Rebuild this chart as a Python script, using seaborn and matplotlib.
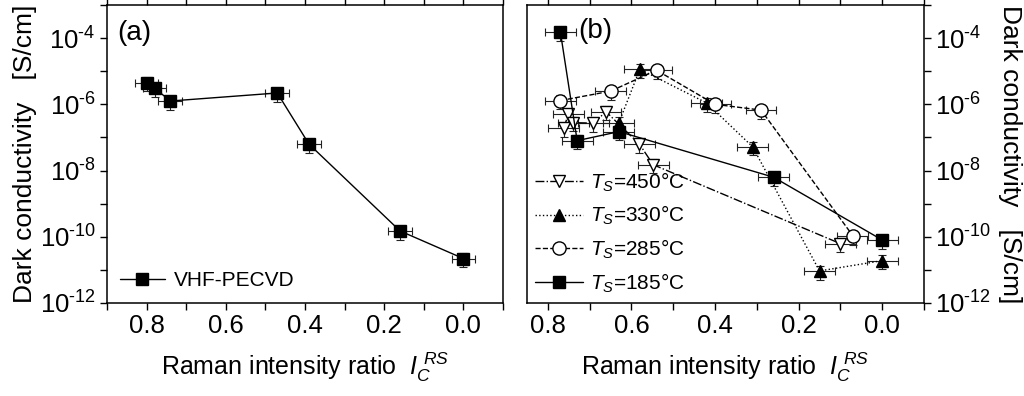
import numpy as np
import pandas as pd
import matplotlib
matplotlib.use("Agg")
import matplotlib.pyplot as plt
import matplotlib.ticker as mticker
import seaborn as sns

# panel (a): VHF-PECVD series
a_x = [0.80, 0.78, 0.74, 0.47, 0.39, 0.16, 0.0]
a_y = [4.5e-6, 3.1e-6, 1.26e-6, 2.2e-6, 6.3e-8, 1.5e-10, 2.2e-11]

# panel (b): substrate temperature series
t450_x = [0.762, 0.751, 0.739, 0.691, 0.661, 0.581, 0.548, 0.10]
t450_y = [1.9e-7, 5.1e-7, 2.8e-7, 2.7e-7, 6.0e-7, 6.3e-8, 1.5e-8, 6.2e-11]
t330_x = [0.63, 0.58, 0.42, 0.31, 0.15, 0.0]
t330_y = [2.8e-7, 1.15e-5, 1.1e-6, 5.2e-8, 9.3e-12, 1.9e-11]
t285_x = [0.77, 0.65, 0.54, 0.40, 0.29, 0.07]
t285_y = [1.3e-6, 2.5e-6, 1.07e-5, 1.0e-6, 6.7e-7, 1.06e-10]
t185_x = [0.77, 0.73, 0.63, 0.26, 0.0]
t185_y = [1.5e-4, 8.0e-8, 1.5e-7, 6.3e-9, 8.0e-11]

series_labels = ["$T_S$=450°C", "$T_S$=330°C", "$T_S$=285°C", "$T_S$=185°C"]
y_ticks = [1e-12, 1e-10, 1e-8, 1e-6, 1e-4]
y_ticklabels = ["$10^{\\text{-}12}$", "$10^{\\text{-}10}$", "$10^{\\text{-}8}$",
                "$10^{\\text{-}6}$", "$10^{\\text{-}4}$"]
x_ticks = [0.8, 0.6, 0.4, 0.2, 0.0]
x_ticklabels = ["0.8", "0.6", "0.4", "0.2", "0.0"]

sns.set_theme(style="ticks")
plt.rcParams['font.family'] = ['Liberation Sans', 'DejaVu Sans']
plt.rcParams['mathtext.fontset'] = 'custom'
plt.rcParams['mathtext.rm'] = 'Liberation Sans'
plt.rcParams['mathtext.it'] = 'Liberation Sans:italic'
plt.rcParams['mathtext.bf'] = 'Liberation Sans:bold'
plt.rcParams['text.color'] = 'black'
plt.rcParams['axes.labelcolor'] = 'black'

fig = plt.figure(figsize=(10.24, 3.96), dpi=100)
ax_a = fig.add_axes([107/1024, 93/396, 396/1024, 298/396])
ax_b = fig.add_axes([527/1024, 93/396, 397/1024, 298/396])

rel_err = 0.45


def draw(ax, xs, ys, xerr, marker, ls, face, label, ms=8.5):
    df = pd.DataFrame({"x": xs, "y": ys})
    ys = np.array(ys)
    ax.errorbar(xs, ys, xerr=xerr, yerr=rel_err * ys, fmt='none',
                ecolor='#222222', elinewidth=0.8, capsize=3, capthick=0.8, zorder=2)
    sns.lineplot(data=df, x="x", y="y", sort=False, ax=ax, color='black',
                 linestyle=ls, linewidth=1.0, marker=marker, markersize=ms,
                 markerfacecolor=face, markeredgecolor='black', markeredgewidth=1.0,
                 label=label, zorder=3)


draw(ax_a, a_x, a_y, 0.03, 's', '-', 'black', "VHF-PECVD")

draw(ax_b, t450_x, t450_y, 0.037, 'v', '-.', 'white', series_labels[0], 9)
draw(ax_b, t330_x, t330_y, 0.037, '^', ':', 'black', series_labels[1], 9)
draw(ax_b, t285_x, t285_y, 0.037, 'o', '--', 'white', series_labels[2], 9.5)
draw(ax_b, t185_x, t185_y, 0.037, 's', '-', 'black', series_labels[3])

for ax, xl in ((ax_a, (0.9, -0.1)), (ax_b, (0.85, -0.1))):
    ax.set_yscale('log')
    ax.set_ylim(1e-12, 1e-3)
    ax.set_xlim(*xl)
    ax.set_yticks(y_ticks)
    ax.set_yticklabels(y_ticklabels)
    ax.yaxis.set_minor_locator(mticker.FixedLocator([1e-11, 1e-9, 1e-7, 1e-5, 1e-3]))
    ax.yaxis.set_minor_formatter(mticker.NullFormatter())
    ax.set_xticks(x_ticks)
    ax.set_xticklabels(x_ticklabels)
    ax.xaxis.set_minor_locator(mticker.MultipleLocator(0.1))
    ax.tick_params(axis='both', which='major', labelsize=18.5, length=5, width=1,
                   color='black', labelcolor='black', direction='out', pad=3)
    ax.tick_params(axis='both', which='minor', length=5, width=1, color='black', direction='out')
    ax.tick_params(axis='x', top=True, which='both', labeltop=False)
    for sp in ax.spines.values():
        sp.set_visible(True)
        sp.set_color('black')
        sp.set_linewidth(1.1)
    ax.set_facecolor('white')
    ax.set_xlabel("Raman intensity ratio  $I_C^{\\ RS}$", fontsize=18, labelpad=9)

ax_a.set_ylabel("Dark conductivity   [S/cm]", fontsize=19, labelpad=2)
ax_b.yaxis.tick_right()
ax_b.yaxis.set_label_position('right')
ax_b.tick_params(axis='y', which='both', left=False, right=True)
ax_b.set_ylabel("Dark conductivity   [S/cm]", fontsize=19, rotation=270, labelpad=22)

ax_a.text(0.025, 0.95, "(a)", transform=ax_a.transAxes, fontsize=20, va='top', ha='left')
ax_b.text(0.13, 0.955, "(b)", transform=ax_b.transAxes, fontsize=20, va='top', ha='left')

ax_a.legend(loc='lower left', frameon=False, fontsize=15, handlelength=2.2,
            borderaxespad=0.2, handletextpad=0.4)
ax_b.legend(loc='lower left', frameon=False, fontsize=15, handlelength=2.3,
            borderaxespad=0.0, handletextpad=0.3, labelspacing=0.5)

fig.savefig("out.png", dpi=100)
